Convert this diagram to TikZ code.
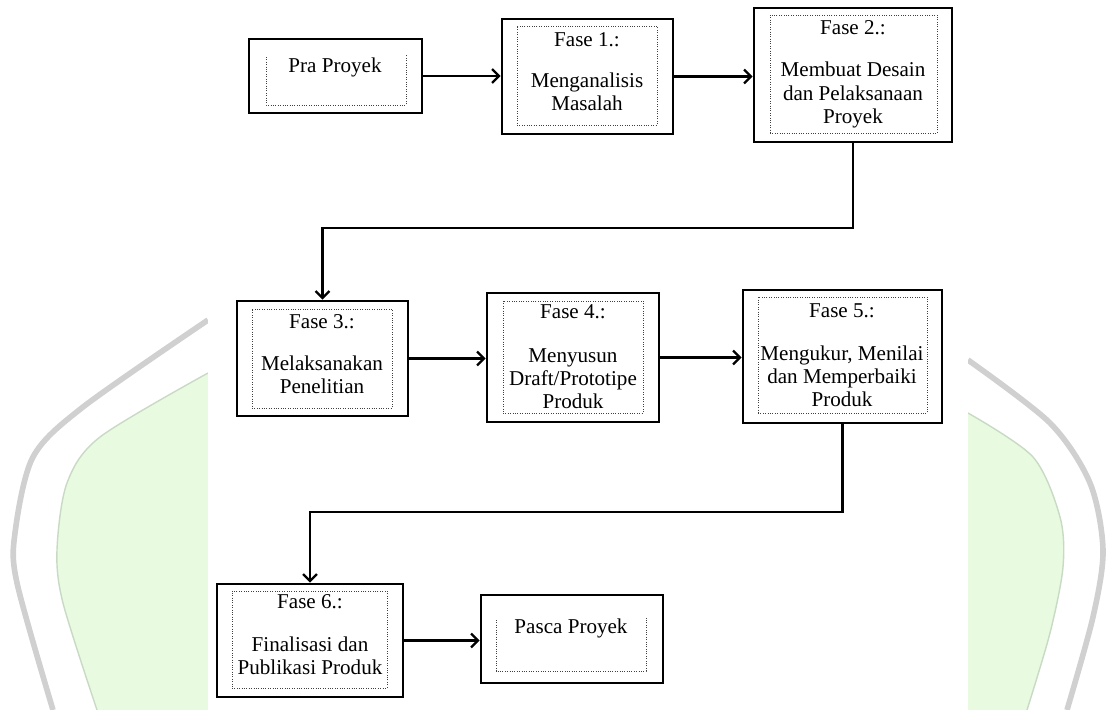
\documentclass[tikz,border=0pt]{standalone}
\usepackage{fontspec}
\setmainfont{Liberation Serif}
\usepackage{tikz}
\usetikzlibrary{fit, arrows.meta}

\definecolor{wmgreen}{RGB}{232,250,224}
\definecolor{wmedge}{RGB}{200,218,196}
\definecolor{wmgray}{RGB}{208,208,208}

\tikzset{
	outerbox/.style = {draw, line width = 1.9pt, inner sep = 0pt},
	innerbox/.style = {draw = black!75, densely dotted, line width = 0.7pt, inner sep = 0pt},
	label/.style = {align = center, font = \fontsize{15}{16.4}\selectfont},
	flow/.style = {draw, line width = 1.6pt, -{Straight Barb[length = 5pt, width = 10pt]}}
}

\begin{document}
\begin{tikzpicture}[x = 0.025cm, y = -0.025cm]
							\useasboundingbox (0,0) rectangle (1107,710);

							% watermark behind the picture
							\fill [wmgreen] plot [smooth] coordinates {(208,373) (100,437) (67,483) (57,550) (63,603) (97,710)} -- (208,710) -- cycle;
							\draw [wmedge, line width = 1pt] plot [smooth] coordinates {(208,373) (100,437) (67,483) (57,550) (63,603) (97,710)};
							\draw [wmgray, line width = 4pt] plot [smooth] coordinates {(208,320) (83,407) (33,457) (15,533) (17,583) (53,710)};
							\fill [wmgreen] plot [smooth] coordinates {(968,413) (1033,457) (1060,517) (1063,567) (1050,633) (1027,710)} -- (968,710) -- cycle;
							\draw [wmedge, line width = 1pt] plot [smooth] coordinates {(968,413) (1033,457) (1060,517) (1063,567) (1050,633) (1027,710)};
							\draw [wmgray, line width = 4pt] plot [smooth] coordinates {(968,360) (1050,423) (1090,483) (1103,550) (1093,617) (1067,710)};
							\fill [white] (208,0) rectangle (968,710);

							% outer boxes
							\node [outerbox, fit = {(249,39) (422,113)}] (pra) {};
							\node [outerbox, fit = {(502,19) (673,134)}] (f1) {};
							\node [outerbox, fit = {(754,8) (952,142)}] (f2) {};
							\node [outerbox, fit = {(237,301) (408,416)}] (f3) {};
							\node [outerbox, fit = {(487,293) (659,422)}] (f4) {};
							\node [outerbox, fit = {(743,290) (942,423)}] (f5) {};
							\node [outerbox, fit = {(217,584) (403,697)}] (f6) {};
							\node [outerbox, fit = {(481,595) (663,683)}] (pasca) {};

							% dotted text frames
							\node [innerbox, fit = {(517,26) (657,125)}] (t1) {};
							\node [innerbox, fit = {(770,15) (937,133)}] (t2) {};
							\node [innerbox, fit = {(252,309) (392,408)}] (t3) {};
							\node [innerbox, fit = {(503,301) (643,413)}] (t4) {};
							\node [innerbox, fit = {(758,297) (927,413)}] (t5) {};
							\node [innerbox, fit = {(232,591) (387,688)}] (t6) {};
							\draw [innerbox] (266,57) -- (266,105) -- (406,105) -- (406,55);
							\draw [innerbox] (496,620) -- (496,671) -- (646,671) -- (646,618);

							% texts
							\foreach \n/\x/\y in {1/587/40, 2/853/28, 3/322/322, 4/573/312, 5/842/311, 6/310/602}
							{
								\node [label] (h\n) at (\x,\y) {Fase \n.:};
							}

							\node [label] (lpra) at (335,67) {Pra Proyek};
							\node [label] (l1) at (587,92) {Menganalisis\\Masalah};
							\node [label] (l2) at (853,95) {Membuat Desain\\dan Pelaksanaan\\Proyek};
							\node [label] (l3) at (322,375) {Melaksanakan\\Penelitian};
							\node [label] (l4) at (573,379) {Menyusun\\Draft/Prototipe\\Produk};
							\node [label] (l5) at (842,376) {Mengukur, Menilai\\dan Memperbaiki\\Produk};
							\node [label] (l6) at (310,656) {Finalisasi dan\\Publikasi Produk};
							\node [label] (lpasca) at (571,628) {Pasca Proyek};

							% connectors
							\coordinate (bend1) at (853,228);
							\coordinate (bend2) at (842.5,512);

							\path [flow] (pra.east) -- (pra.east -| f1.west);
							\path [flow] (f1.east) -- (f1.east -| f2.west);
							\path [flow] (f2.south) -- (bend1) -| (f3.north);
							\path [flow] (f3.east) -- (f3.east -| f4.west);
							\path [flow] (f4.east) -- (f4.east -| f5.west);
							\path [flow] (f5.south) -- (bend2) -| (f6.north);
							\path [flow] (f6.east) -- (f6.east -| pasca.west);
						\end{tikzpicture}
\end{document}
